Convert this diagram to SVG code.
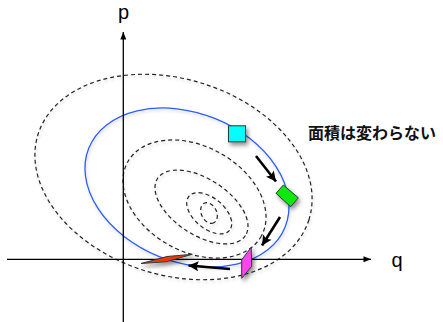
<svg xmlns="http://www.w3.org/2000/svg" width="443" height="322" viewBox="0 0 443 322">
  <defs>
    <filter id="shadow" x="-50%" y="-50%" width="200%" height="200%">
      <feDropShadow dx="2" dy="3" stdDeviation="2.2" flood-color="#000" flood-opacity="0.45"/>
    </filter>
    <filter id="soft" x="-10%" y="-10%" width="120%" height="120%">
      <feDropShadow dx="1" dy="2" stdDeviation="1.5" flood-color="#000" flood-opacity="0.18"/>
    </filter>
    <marker id="axisHead" viewBox="0 0 10 8" refX="10" refY="4" markerWidth="9" markerHeight="6" markerUnits="userSpaceOnUse" orient="auto">
      <path d="M0,0 L10,4 L0,8 z" fill="#000"/>
    </marker>
    <marker id="moveHead" viewBox="0 0 10 10" refX="10" refY="5" markerWidth="11" markerHeight="10" markerUnits="userSpaceOnUse" orient="auto">
      <path d="M0,0 L10,5 L0,10 L2,5 z" fill="#000"/>
    </marker>
  </defs>
  <style>
    .contour { fill: none; stroke: #222; stroke-width: 1.2; stroke-dasharray: 4 3; }
    .orbit { fill: none; stroke: #2a5cff; stroke-width: 1.3; }
    .axis { stroke: #000; stroke-width: 1.3; fill: none; }
    .move { stroke: #000; stroke-width: 2.6; fill: none; }
    .shape { stroke: #2b3b3b; stroke-width: 1; }
    .label { font-family: "Liberation Sans", Arial, sans-serif; font-size: 20px; fill: #000; }
    .note { font-family: "Liberation Sans", "Noto Sans CJK JP", sans-serif; font-size: 16px; font-weight: bold; fill: #111; }
  </style>

  <g id="contours" filter="url(#soft)">
    <ellipse class="contour" cx="173.5" cy="177" rx="142" ry="98" transform="rotate(17.5 173.5 177)"/>
    <ellipse class="contour" cx="194.5" cy="199" rx="76.4" ry="52.6" transform="rotate(29 194.5 199)"/>
    <ellipse class="contour" cx="201.5" cy="207" rx="52.4" ry="28" transform="rotate(33 201.5 207)"/>
    <ellipse class="contour" cx="209.2" cy="213.3" rx="26.5" ry="15.2" transform="rotate(40 209.2 213.3)"/>
    <ellipse class="contour" cx="209" cy="213" rx="10.9" ry="7.6" transform="rotate(63.8 209 213)"/>
  </g>

  <g id="orbit" filter="url(#soft)">
    <ellipse class="orbit" cx="187" cy="187.5" rx="105.8" ry="74.4" transform="rotate(21.9 187 187.5)"/>
  </g>

  <g id="axes">
    <line class="axis" x1="123.3" y1="322" x2="123.3" y2="32" marker-end="url(#axisHead)"/>
    <line class="axis" x1="7" y1="259.3" x2="371" y2="259.3" marker-end="url(#axisHead)"/>
    <text class="label" x="118" y="18.5">p</text>
    <text class="label" x="391.5" y="266.7">q</text>
  </g>

  <g id="cyan-square" filter="url(#shadow)">
    <rect class="shape" x="228.5" y="125.8" width="17" height="16" fill="#00ffff"/>
  </g>
  <g id="green-rect" filter="url(#shadow)">
    <polygon class="shape" points="283.3,185 276,193.3 290.7,206.7 298.3,197.8" fill="#11e811"/>
  </g>
  <g id="pink-parallelogram" filter="url(#shadow)">
    <polygon class="shape" points="251.2,247.3 241.7,259.8 241.7,278.3 251.7,266.3" fill="#ff44ee"/>
  </g>
  <g id="red-parallelogram" filter="url(#shadow)">
    <polygon class="shape" points="141,263.5 167,256.5 192.3,254.3 166,261.8" fill="#ff3300"/>
  </g>

  <g id="connectors">
    <line class="move" x1="256" y1="156" x2="276" y2="181.5" marker-end="url(#moveHead)"/>
    <line class="move" x1="280" y1="217" x2="262" y2="245.5" marker-end="url(#moveHead)"/>
    <line class="move" x1="230" y1="269" x2="188.5" y2="265.5" marker-end="url(#moveHead)"/>
  </g>

  <g id="note">
    <text class="note" x="308" y="138.5">面積は変わらない</text>
  </g>
</svg>
